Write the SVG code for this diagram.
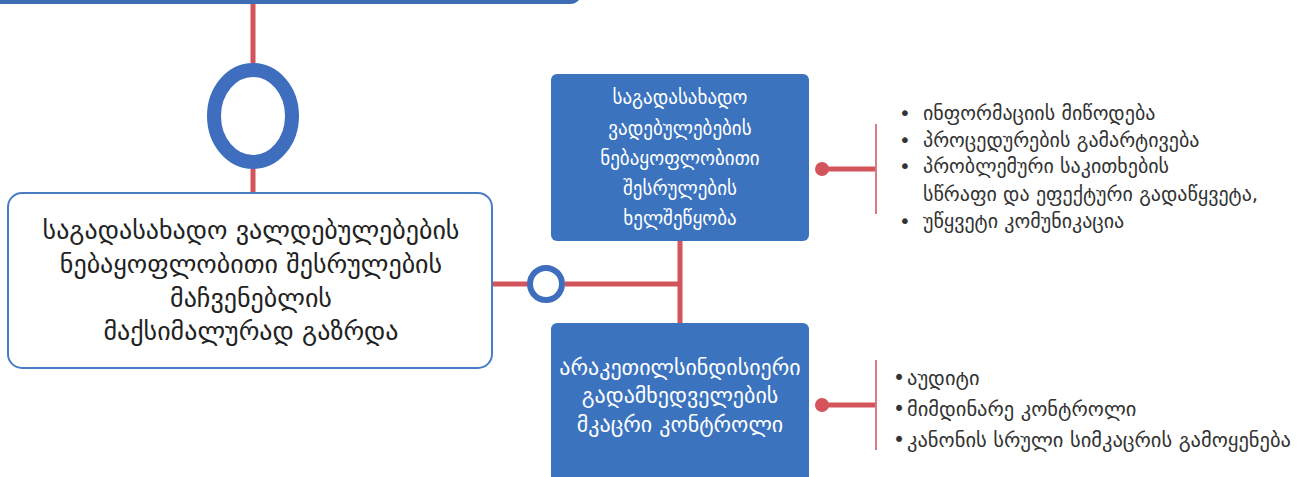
<svg xmlns="http://www.w3.org/2000/svg" width="1308" height="477" viewBox="0 0 1308 477">
<style>
.red{stroke:#D4545B;stroke-width:5;fill:none}
.thin{stroke:#DA7A82;stroke-width:2;fill:none}
.bluebox{fill:#3B73BF}
.wt{font-family:"DejaVu Sans",sans-serif;font-size:19px;fill:#ffffff;text-anchor:middle}
.wt2{font-family:"DejaVu Sans",sans-serif;font-size:22px;fill:#ffffff;text-anchor:middle}
.bt{font-family:"DejaVu Sans",sans-serif;font-size:26px;fill:#222222;text-anchor:middle}
.li{font-family:"DejaVu Sans",sans-serif;font-size:20px;fill:#333333}
.li2{font-family:"DejaVu Sans",sans-serif;font-size:20.5px;fill:#333333}
.dot{fill:#D4545B}
</style>
<rect width="1308" height="477" fill="#ffffff"/>
<g id="connectors">
<line class="red" x1="253" y1="0" x2="253" y2="63"/>
<line class="red" x1="253" y1="169" x2="253" y2="193"/>
<line class="red" x1="492" y1="284" x2="528" y2="284"/>
<line class="red" x1="565" y1="284" x2="680" y2="284"/>
<line class="red" x1="680" y1="240" x2="680" y2="323"/>
<line class="red" x1="822" y1="169" x2="876" y2="169"/>
<line class="thin" x1="876" y1="124" x2="876" y2="214"/>
<circle class="dot" cx="822" cy="169" r="7"/>
<line class="red" x1="822" y1="405" x2="876" y2="405"/>
<line class="thin" x1="876" y1="360" x2="876" y2="450"/>
<circle class="dot" cx="822" cy="405" r="7"/>
</g>
<g id="top-node">
<rect x="-20" y="-40" width="602" height="44" rx="12" fill="#3E6DB4"/>
</g>
<g id="ring-top">
<ellipse cx="253" cy="116" rx="39" ry="46" fill="#ffffff" stroke="#3F6EBE" stroke-width="14"/>
</g>
<g id="ring-small">
<circle cx="546" cy="284" r="16" fill="#ffffff" stroke="#3F6EBE" stroke-width="6"/>
</g>
<g id="main-node">
<rect x="8" y="193" width="484" height="175" rx="14" fill="#ffffff" stroke="#4A7CC4" stroke-width="2"/>
<text class="bt" x="251" y="239">საგადასახადო ვალდებულებების</text>
<text class="bt" x="251" y="273">ნებაყოფლობითი შესრულების</text>
<text class="bt" x="251" y="307">მაჩვენებლის</text>
<text class="bt" x="251" y="340">მაქსიმალურად გაზრდა</text>
</g>
<g id="node-1">
<rect class="bluebox" x="551" y="74" width="258" height="167" rx="6"/>
<text class="wt" x="680" y="104">საგადასახადო</text>
<text class="wt" x="680" y="135">ვადებულებების</text>
<text class="wt" x="680" y="165">ნებაყოფლობითი</text>
<text class="wt" x="680" y="195">შესრულების</text>
<text class="wt" x="680" y="225">ხელშეწყობა</text>
</g>
<g id="node-2">
<rect class="bluebox" x="551" y="323" width="258" height="170" rx="6"/>
<text class="wt2" x="680" y="375">არაკეთილსინდისიერი</text>
<text class="wt2" x="680" y="403">გადამხედველების</text>
<text class="wt2" x="680" y="432">მკაცრი კონტროლი</text>
</g>
<g id="list-1">
<text class="li" x="899" y="120">•</text><text class="li" x="923" y="120">ინფორმაციის მიწოდება</text>
<text class="li" x="899" y="147">•</text><text class="li" x="923" y="147">პროცედურების გამარტივება</text>
<text class="li" x="899" y="173">•</text><text class="li" x="923" y="173">პრობლემური საკითხების</text>
<text class="li" x="923" y="201">სწრაფი და ეფექტური გადაწყვეტა,</text>
<text class="li" x="899" y="228">•</text><text class="li" x="923" y="228">უწყვეტი კომუნიკაცია</text>
</g>
<g id="list-2">
<text class="li2" x="893" y="385">•</text><text class="li2" x="907" y="385">აუდიტი</text>
<text class="li2" x="893" y="416">•</text><text class="li2" x="907" y="416">მიმდინარე კონტროლი</text>
<text class="li2" x="893" y="447">•</text><text class="li2" x="907" y="447">კანონის სრული სიმკაცრის გამოყენება</text>
</g>
</svg>
